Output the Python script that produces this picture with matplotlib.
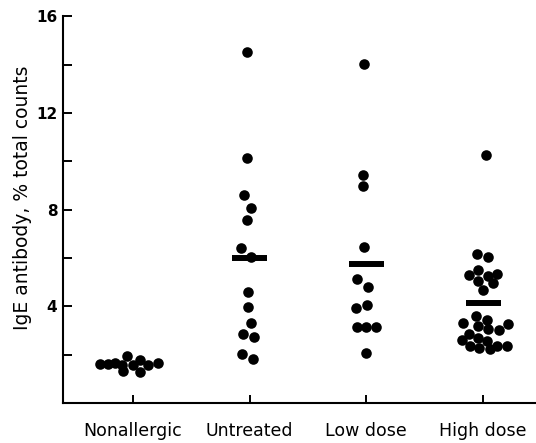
import matplotlib
matplotlib.use("Agg")
import matplotlib.pyplot as plt

# group names and their x positions
groups = ["Nonallergic", "Untreated", "Low dose", "High dose"]

# IgE antibody values (% total counts)
nonallergic = [1.60, 1.62, 1.64, 1.95, 1.33, 1.78, 1.30, 1.58, 1.58, 1.64, 1.58]
untreated = [14.53, 10.15, 8.59, 8.08, 7.56, 6.42, 6.05, 4.58, 3.97, 3.31,
             2.86, 2.73, 2.02, 1.81]
low_dose = [14.05, 9.45, 8.98, 6.44, 5.13, 4.80, 3.95, 4.07, 3.15, 3.15,
            3.15, 2.06]
high_dose = [10.25, 6.15, 6.03, 5.52, 5.30, 5.24, 5.35, 5.03, 4.97, 4.69,
             3.61, 3.44, 3.31, 3.20, 3.06, 3.03, 3.27, 2.85, 2.61, 2.71,
             2.57, 2.37, 2.29, 2.23, 2.37, 2.37]

# horizontal spread of the dots (pixels left/right of the group tick)
nonallergic_dx = [-33, -25, -18, -6, -10, 7, 7, 0, 15, 25, -11]
untreated_dx = [-3, -3, -6, 1, -3, -9, 1, -2, -2, 1, -7, 4, -8, 3]
low_dose_dx = [-2, -3, -3, -2, -9, 2, -10, 1, -9, 0, 10, 0]
high_dose_dx = [3, -6, 5, -5, -14, 5, 14, -5, 10, 0,
                -7, 4, -20, -5, 5, 16, 25, -14, -21, -5,
                4, -13, -4, 7, 14, 24]

# group means (the short bars)
mean_pos = [2, 3, 4]
mean_vals = [6.0, 5.75, 4.15]

px_per_unit = 116.7

fig = plt.figure(figsize=(5.36, 4.43), dpi=100)
ax = fig.add_axes([0.1175, 0.0903, 0.8825, 0.8725])

all_vals = [nonallergic, untreated, low_dose, high_dose]
all_dx = [nonallergic_dx, untreated_dx, low_dose_dx, high_dose_dx]
for i, (vals, dx) in enumerate(zip(all_vals, all_dx)):
    xs = [i + 1 + d / px_per_unit for d in dx]
    ax.scatter(xs, vals, s=58, color="black", linewidths=0, zorder=3)

ax.hlines(mean_vals, [p - 0.15 for p in mean_pos], [p + 0.15 for p in mean_pos],
          colors="black", linewidth=4.3, zorder=4)

ax.set_xlim(0.40, 4.454)
ax.set_ylim(0, 16)
ax.set_xticks([1, 2, 3, 4])
ax.set_xticklabels(groups, fontsize=12.5)
ax.set_yticks([4, 8, 12, 16])
ax.set_yticklabels(["4", "8", "12", "16"], fontsize=11, fontweight="bold")
ax.set_yticks([2, 6, 10, 14], minor=True)

for side in ["top", "right"]:
    ax.spines[side].set_visible(False)
for side in ["left", "bottom"]:
    ax.spines[side].set_linewidth(1.5)

ax.tick_params(axis="y", which="both", direction="in", length=6.5, width=1.4, pad=4)
ax.tick_params(axis="x", direction="in", length=6, width=1.4, pad=14)

ax.set_ylabel("IgE antibody, % total counts", fontsize=13.5, labelpad=4)
ax.yaxis.set_label_coords(-0.065, 0.53)

fig.savefig("out.png", dpi=100)
